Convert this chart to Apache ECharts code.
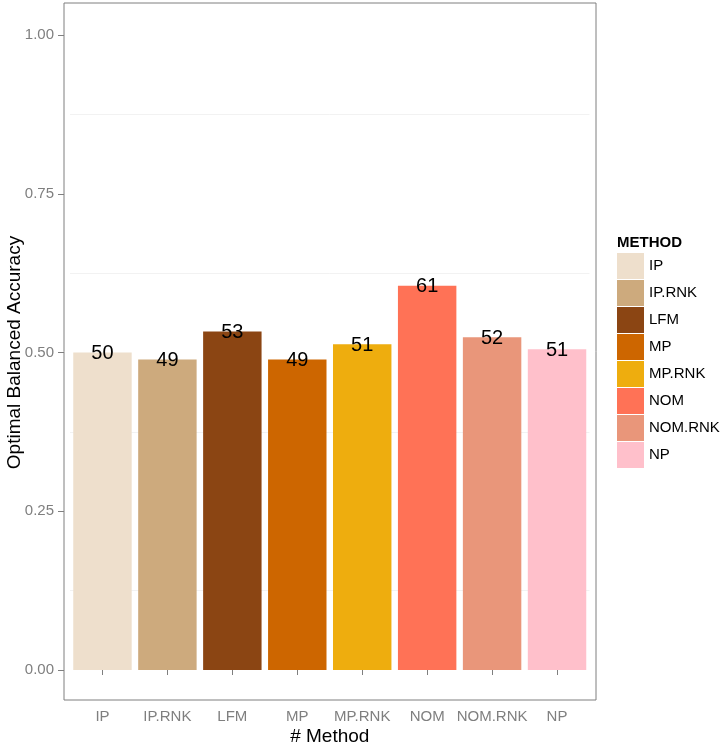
<!DOCTYPE html>
<html>
<head>
<meta charset="utf-8">
<script src="https://cdn.jsdelivr.net/npm/echarts@6/dist/echarts.min.js"></script>
<style>html,body{margin:0;padding:0;background:#fff;}#c{width:724px;height:746px;}</style>
</head>
<body>
<div id="c"></div>
<script>
var methods = ['IP', 'IP.RNK', 'LFM', 'MP', 'MP.RNK', 'NOM', 'NOM.RNK', 'NP'];
var accuracy = [0.500, 0.489, 0.533, 0.489, 0.513, 0.605, 0.524, 0.505];
var barLabels = ['50', '49', '53', '49', '51', '61', '52', '51'];
var colors = ['#EEDFCC', '#CDAA7D', '#8B4513', '#CD6600', '#EEAD0E', '#FF7256', '#E9967A', '#FFC0CB'];
var yTicks = [0, 0.25, 0.5, 0.75, 1.0];

var FONT = 'Liberation Sans, Arial, Helvetica, sans-serif';
var GREY = '#7f7f7f';

var series = methods.map(function (m, i) {
  return {
    name: m,
    type: 'bar',
    stack: 'all',
    xAxisIndex: 1,
    yAxisIndex: 1,
    barCategoryGap: '10%',
    itemStyle: { color: colors[i] },
    label: {
      show: true,
      position: 'top',
      distance: -11,
      color: '#000',
      fontSize: 20,
      fontFamily: FONT,
      formatter: function (p) { return barLabels[p.dataIndex]; }
    },
    data: methods.map(function (_, j) { return j === i ? accuracy[j] : '-'; })
  };
});

var chart = echarts.init(document.getElementById('c'));
chart.setOption({
  backgroundColor: '#fff',
  animation: false,
  textStyle: { fontFamily: FONT },
  title: {
    text: 'METHOD',
    left: 617,
    top: 235,
    padding: 0,
    textStyle: { fontFamily: FONT, fontSize: 15, fontWeight: 'bold', color: '#000' }
  },
  legend: {
    orient: 'vertical',
    left: 617,
    top: 253,
    padding: 0,
    itemWidth: 27,
    itemHeight: 26,
    itemGap: 1,
    icon: 'rect',
    data: methods,
    textStyle: { fontFamily: FONT, fontSize: 15, color: '#000' }
  },
  grid: [
    { left: 64, right: 128, top: 3, bottom: 46, show: true, borderColor: GREY, borderWidth: 1, backgroundColor: 'transparent', containLabel: false, outerBoundsMode: 'none' },
    { left: 70, right: 134.5, top: 35, bottom: 76, containLabel: false, outerBoundsMode: 'none' }
  ],
  xAxis: [
    { type: 'value', gridIndex: 0, show: false, min: 0, max: 1 },
    {
      type: 'category',
      gridIndex: 1,
      data: methods,
      offset: 30,
      axisLine: { show: false },
      axisTick: { show: true, alignWithLabel: true, length: 5, lineStyle: { color: GREY } },
      axisLabel: { color: GREY, fontSize: 15, margin: 9, fontFamily: FONT, interval: 0 },
      splitLine: { show: false },
      name: '# Method',
      nameLocation: 'middle',
      nameGap: 27,
      nameMoveOverlap: false,
      nameTextStyle: { color: '#000', fontSize: 19, fontFamily: FONT }
    }
  ],
  yAxis: [
    { type: 'value', gridIndex: 0, show: false, min: 0, max: 1 },
    {
      type: 'value',
      gridIndex: 1,
      min: 0,
      max: 1,
      interval: 0.25,
      offset: 6,
      axisLine: { show: false },
      axisTick: { show: true, length: 6, lineStyle: { color: GREY } },
      axisLabel: {
        color: GREY, fontSize: 15, margin: 10, fontFamily: FONT,
        formatter: function (v) { return v.toFixed(2); }
      },
      splitLine: { show: false },
      minorTick: { show: false, splitNumber: 2 },
      minorSplitLine: { show: true, lineStyle: { color: '#f2f2f2', width: 1 } },
      name: 'Optimal Balanced Accuracy',
      nameLocation: 'middle',
      nameGap: 40,
      nameMoveOverlap: false,
      nameTextStyle: { color: '#000', fontSize: 19, fontFamily: FONT }
    }
  ],
  series: series
});
</script>
</body>
</html>
